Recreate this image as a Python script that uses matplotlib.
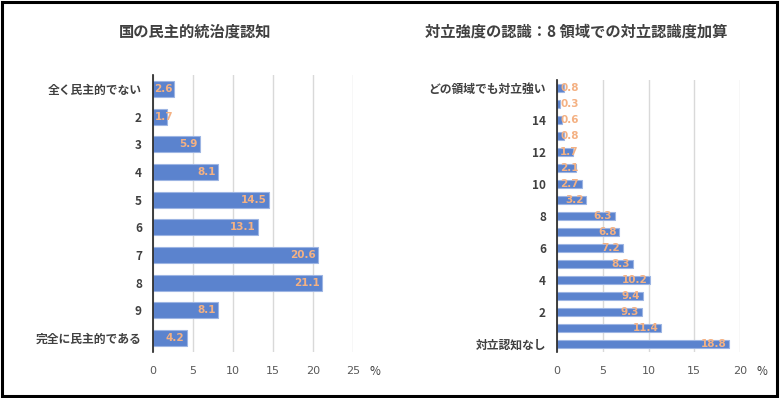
import matplotlib
matplotlib.use("Agg")
import matplotlib.pyplot as plt
from matplotlib.patches import Rectangle

plt.rcParams['font.family'] = ['Noto Sans CJK JP', 'DejaVu Sans']

# ---- data (top to bottom) ----
left_title = "国の民主的統治度認知"
left_cats = ["全く民主的でない", "2", "3", "4", "5", "6", "7", "8", "9", "完全に民主的である"]
left_vals = [2.6, 1.7, 5.9, 8.1, 14.5, 13.1, 20.6, 21.1, 8.1, 4.2]
left_xticks = [0, 5, 10, 15, 20, 25]

right_title = "対立強度の認識：8 領域での対立認識度加算"
right_cats = ["どの領域でも対立強い", "", "14", "", "12", "", "10", "", "8", "", "6", "", "4", "", "2", "", "対立認知なし"]
right_vals = [0.8, 0.3, 0.6, 0.8, 1.7, 2.1, 2.7, 3.2, 6.3, 6.8, 7.2, 8.3, 10.2, 9.4, 9.3, 11.4, 18.8]
right_xticks = [0, 5, 10, 15, 20]

BAR = '#5B83CE'
EDGE = '#9DB5E3'
LABEL = '#F4B183'
TXT = '#404040'
TICK = '#595959'

fig = plt.figure(figsize=(7.8, 3.98), dpi=100)

def panel(rect, cats, vals, xmax, ticks, title, title_x, minpos, barh):
    ax = fig.add_axes(rect)
    n = len(cats)
    y = list(range(n))
    ax.barh(y, vals, height=barh, color=BAR, edgecolor=EDGE, linewidth=0.8, zorder=3)
    ax.set_ylim(-0.5, n - 0.5)
    ax.invert_yaxis()
    ax.set_xlim(0, xmax)
    ax.set_xticks(ticks)
    ax.set_xticklabels([str(t) for t in ticks], color=TICK, fontsize=8,
                       family=['Liberation Sans Narrow', 'DejaVu Sans'])
    ax.set_yticks(y)
    ax.set_yticklabels(cats, fontsize=8.5, fontweight='bold', color=TXT)
    ax.tick_params(axis='both', length=0)
    ax.tick_params(axis='x', pad=10)
    ax.tick_params(axis='y', pad=8)
    for s in ['top', 'right', 'bottom']:
        ax.spines[s].set_visible(False)
    ax.spines['left'].set_color('#202020')
    ax.spines['left'].set_linewidth(1.2)
    ax.spines['left'].set_zorder(4)
    ax.grid(axis='x', color='#D9D9D9', linewidth=1, zorder=0)
    for yi, v in zip(y, vals):
        ax.text(max(v - 0.3, minpos), yi, f"{v}", ha='right', va='center',
                color=LABEL, fontsize=7.5, fontweight='bold', zorder=5,
                family=['Liberation Sans Narrow', 'DejaVu Sans'])
    ax.annotate("%", xy=(1.0, 0.0), xycoords='axes fraction',
                xytext=(12, -14), textcoords='offset points',
                ha='left', va='center', fontsize=8.5, color=TXT)
    fig.text(title_x, 0.92, title, ha='center', va='center', fontsize=11,
             color=TXT, fontweight='bold')
    return ax

panel([153/780, 1 - 352/398, 200/780, 277/398], left_cats, left_vals, 25,
      left_xticks, left_title, 195/780, 2.5, 0.58)
panel([557/780, 1 - 352/398, 183/780, 272/398], right_cats, right_vals, 20,
      right_xticks, right_title, 576/780, 2.35, 0.55)

fig.patches.append(Rectangle((0.002, 0.004), 0.994, 0.992, transform=fig.transFigure,
                             fill=False, edgecolor='black', linewidth=2.2))

fig.savefig("out.png", dpi=100)
